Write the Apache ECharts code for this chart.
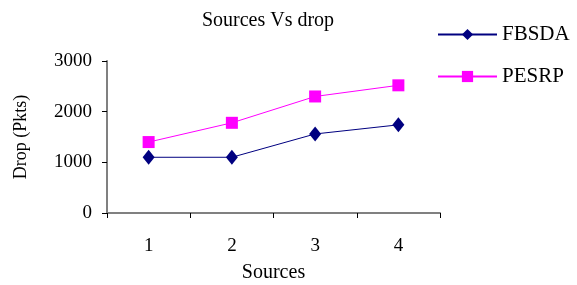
<!DOCTYPE html>
<html><head><meta charset="utf-8">
<script src="https://cdn.jsdelivr.net/npm/echarts@6/dist/echarts.min.js"></script>
<style>html,body{margin:0;padding:0;background:#fff}#c{width:577px;height:285px}</style>
</head><body><div id="c"></div>
<script>
const categories = ['1', '2', '3', '4'];
const fbsda = [1100, 1100, 1560, 1740];
const pesrp = [1400, 1780, 2300, 2520];
const yTicks = [0, 1000, 2000, 3000];

const font = 'Liberation Serif, Times New Roman, serif';
const chart = echarts.init(document.getElementById('c'));
chart.setOption({
  animation: false,
  backgroundColor: '#fff',
  title: {
    text: 'Sources Vs drop', left: 263, top: 6, textAlign: 'center',
    textStyle: { fontFamily: font, fontSize: 20, fontWeight: 'normal', color: '#000' }
  },
  legend: {
    orient: 'vertical', left: 432, top: 19, itemGap: 21,
    itemWidth: 59, itemHeight: 14,
    textStyle: { fontFamily: font, fontSize: 21, color: '#000' },
    data: ['FBSDA', 'PESRP']
  },
  grid: { left: 107, top: 61, width: 333, height: 152, containLabel: false, outerBoundsMode: 'none' },
  xAxis: {
    type: 'category', data: categories, boundaryGap: true,
    name: 'Sources', nameLocation: 'middle', nameGap: 50,
    nameTextStyle: { fontFamily: font, fontSize: 20, color: '#000' },
    axisLine: { lineStyle: { color: '#808080', width: 2 } },
    axisTick: { show: true, length: 5, lineStyle: { color: '#000', width: 1 } },
    axisLabel: { fontFamily: font, fontSize: 19, color: '#000', margin: 24 },
    splitLine: { show: false }
  },
  yAxis: {
    type: 'value', min: yTicks[0], max: yTicks[yTicks.length - 1], interval: 1000,
    name: 'Drop (Pkts)', nameLocation: 'middle', nameGap: 77, nameRotate: 90,
    nameTextStyle: { fontFamily: font, fontSize: 18, color: '#000' },
    axisLine: { show: true, lineStyle: { color: '#808080', width: 2 } },
    axisTick: { show: true, length: 5, lineStyle: { color: '#000', width: 1 } },
    axisLabel: { fontFamily: font, fontSize: 19, color: '#000', margin: 15, formatter: v => String(v) },
    splitLine: { show: false }
  },
  series: [
    {
      name: 'FBSDA', type: 'line', data: fbsda,
      symbol: 'diamond', symbolSize: [12, 15],
      lineStyle: { color: '#000080', width: 1 },
      itemStyle: { color: '#000080' }
    },
    {
      name: 'PESRP', type: 'line', data: pesrp,
      symbol: 'rect', symbolSize: 12,
      lineStyle: { color: '#FF00FF', width: 1 },
      itemStyle: { color: '#FF00FF' }
    }
  ]
});
</script></body></html>
